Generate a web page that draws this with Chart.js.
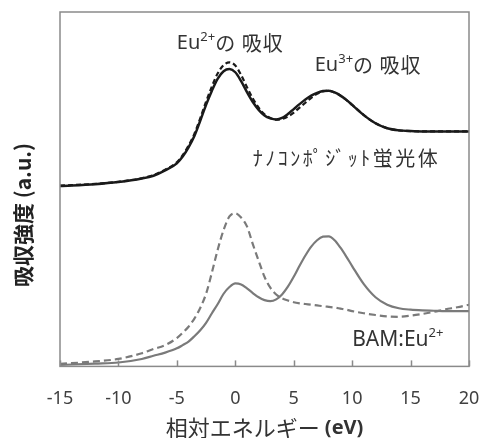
<!DOCTYPE html>
<html>
<head>
<meta charset="utf-8">
<script src="https://cdn.jsdelivr.net/npm/chart.js@4"></script>
<style>
  body { margin: 0; background: #fff; }
  canvas { display: block; }
</style>
</head>
<body>
<canvas id="absChart" width="481" height="438"></canvas>
<script>
// Data (relative energy in eV, intensity in arbitrary units, curves offset vertically)
const energy = [-15,-12,-10,-8,-7,-6,-5,-4.5,-4,-3.5,-3,-2.5,-2,-1.5,-1,-0.5,0,0.5,1,1.5,2,2.5,3,3.5,4,4.5,5,5.5,6,6.5,7,7.5,8,8.5,9,9.5,10,11,12,13,14,15,16,17,18,19,20];

const nanoSolid = [50.9,51.4,52.0,53.0,53.8,55.3,57.3,59.2,61.8,65.0,69.3,73.8,77.8,81.2,83.3,83.9,83.0,80.5,77.4,74.6,72.4,70.8,70.0,69.7,70.1,71.2,72.6,74.0,75.3,76.4,77.2,77.7,77.8,77.3,76.4,75.2,73.8,70.9,68.6,67.2,66.6,66.4,66.3,66.3,66.3,66.3,66.3];
const nanoDashed = [51.0,51.5,52.1,53.1,54.0,55.5,57.6,59.6,62.3,65.6,70.0,74.7,79.0,82.7,85.0,85.8,84.9,82.2,78.8,75.6,73.0,71.1,70.1,69.6,69.8,70.5,71.6,73.0,74.4,75.8,76.9,77.6,77.8,77.3,76.4,75.2,73.8,70.9,68.6,67.2,66.6,66.4,66.3,66.3,66.3,66.3,66.3];

const bamSolid = [0.4,0.8,1.1,2.1,3.0,3.9,5.1,6.0,7.0,8.5,10.2,12.3,15.0,17.6,20.5,22.4,23.4,23.1,22.0,20.7,19.5,18.7,18.4,18.9,20.3,22.5,25.3,28.4,31.3,33.8,35.6,36.6,36.7,35.6,33.5,31.0,28.3,23.2,19.5,17.4,16.4,16.0,15.8,15.7,15.6,15.6,15.6];
const bamDashed = [0.7,1.4,2.1,3.7,4.9,6.0,8.0,9.5,11.2,13.5,16.5,20.5,26.5,33.0,38.5,42.3,43.2,42.0,39.5,34.5,29.8,25.3,22.2,20.3,19.2,18.6,18.1,17.8,17.6,17.4,17.2,17.0,16.8,16.6,16.3,16.0,15.6,15.0,14.5,14.1,14.0,14.3,14.8,15.4,16.1,16.7,17.4];

const xTicks = [-15,-10,-5,0,5,10,15,20];

const xTitle = '相対エネルギー';
const xUnit = '(eV)';
const yTitle = '吸収強度 (a.u.)';

function pts(ys) {
  return energy.map((x, i) => ({ x: x, y: ys[i] }));
}

const JP = '"Noto Sans CJK JP", "Noto Sans", sans-serif';
const LAT = '"Noto Sans", "Noto Sans CJK JP", sans-serif';
const TEXT = '#333333';

// draw a row of text pieces (for superscripts and mixed weights)
function drawParts(ctx, parts, x, y, align) {
  ctx.save();
  ctx.textBaseline = 'middle';
  ctx.textAlign = 'left';
  let total = 0;
  parts.forEach(p => {
    ctx.font = p.font;
    ctx.letterSpacing = p.ls || '0px';
    total += ctx.measureText(p.t).width;
  });
  let cx = align === 'center' ? x - total / 2 : x;
  parts.forEach(p => {
    ctx.font = p.font;
    ctx.letterSpacing = p.ls || '0px';
    ctx.fillStyle = p.color || TEXT;
    ctx.fillText(p.t, cx, y + (p.dy || 0));
    cx += ctx.measureText(p.t).width;
  });
  ctx.restore();
}

const decor = {
  id: 'decor',
  afterDraw(chart) {
    const { ctx, chartArea: a, scales } = chart;
    const sx = scales.x, sy = scales.y;

    // frame
    ctx.save();
    ctx.strokeStyle = '#8a8a8a';
    ctx.lineWidth = 1.5;
    ctx.strokeRect(a.left, a.top, a.right - a.left, a.bottom - a.top);
    // inside ticks
    xTicks.forEach(v => {
      const px = Math.round(sx.getPixelForValue(v)) + 0.5;
      ctx.beginPath();
      ctx.moveTo(px, a.bottom);
      ctx.lineTo(px, a.bottom - 6);
      ctx.stroke();
    });
    ctx.restore();

    // annotations
    const big = '20px ' + LAT;
    const sup = '13px ' + LAT;
    const jp = '20px ' + JP;
    drawParts(ctx, [
      { t: 'Eu', font: big }, { t: '2+', font: sup, dy: -6 },
      { t: 'の 吸収', font: jp, ls: '1px' }
    ], sx.getPixelForValue(-5), sy.getPixelForValue(91.2));
    drawParts(ctx, [
      { t: 'Eu', font: big }, { t: '3+', font: sup, dy: -6 },
      { t: 'の 吸収', font: jp, ls: '1px' }
    ], sx.getPixelForValue(6.8), sy.getPixelForValue(84.9));
    drawParts(ctx, [
      { t: 'ﾅﾉｺﾝﾎﾟｼﾞｯﾄ蛍光体', font: jp, ls: '2.5px' }
    ], sx.getPixelForValue(1.5), sy.getPixelForValue(58.8));
    drawParts(ctx, [
      { t: 'BAM:Eu', font: '21px ' + LAT }, { t: '2+', font: sup, dy: -7 }
    ], sx.getPixelForValue(10), sy.getPixelForValue(7.4));

    // axis titles
    const midX = (a.left + a.right) / 2;
    drawParts(ctx, [
      { t: xTitle, font: '22px ' + JP }, { t: ' ' + xUnit, font: 'bold 20px ' + LAT }
    ], midX, 428, 'center');

    ctx.save();
    ctx.translate(23, 215);
    ctx.rotate(-Math.PI / 2);
    drawParts(ctx, [{ t: yTitle, font: 'bold 21px ' + JP, color: '#222' }], 0, 0, 'center');
    ctx.restore();
  }
};

new Chart(document.getElementById('absChart'), {
  type: 'line',
  data: {
    datasets: [
      { label: 'nano dashed', data: pts(nanoDashed), borderColor: '#1a1a1a', borderWidth: 2.2, borderDash: [5, 3] },
      { label: 'nano', data: pts(nanoSolid), borderColor: '#1a1a1a', borderWidth: 2.5 },
      { label: 'BAM dashed', data: pts(bamDashed), borderColor: '#7a7a7a', borderWidth: 2.2, borderDash: [7, 4] },
      { label: 'BAM', data: pts(bamSolid), borderColor: '#7a7a7a', borderWidth: 2.2 }
    ]
  },
  options: {
    responsive: false,
    animation: false,
    layout: { padding: { left: 60, right: 12, top: 12, bottom: 28 } },
    elements: {
      point: { radius: 0 },
      line: { cubicInterpolationMode: 'monotone', fill: false }
    },
    plugins: { legend: { display: false }, tooltip: { enabled: false } },
    scales: {
      x: {
        type: 'linear', min: -15, max: 20,
        afterBuildTicks: s => { s.ticks = xTicks.map(v => ({ value: v })); },
        ticks: { color: '#404040', font: { size: 18, family: LAT }, padding: 0, maxRotation: 0 },
        grid: { display: false, drawTicks: true, tickLength: 22 },
        border: { display: false }
      },
      y: { display: false, min: 0, max: 100 }
    }
  },
  plugins: [decor]
});
</script>
</body>
</html>
